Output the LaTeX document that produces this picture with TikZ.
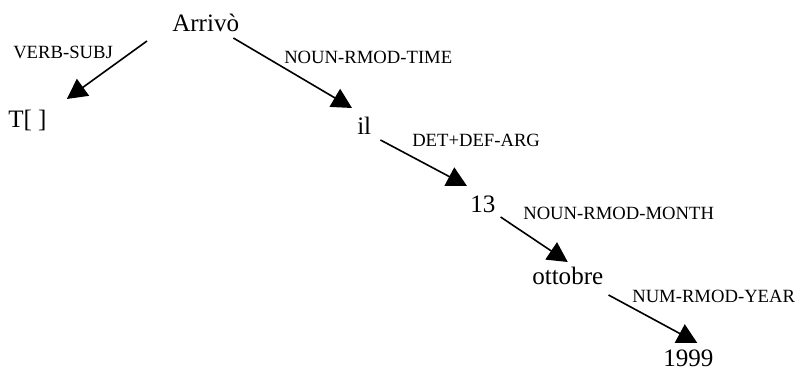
\documentclass[tikz,border=0pt]{standalone}
\usepackage{fontspec}
\setmainfont{Liberation Serif}
\usepackage{tikz}
\usetikzlibrary{positioning,arrows.meta,calc}
\tikzset{
  node-word/.style={inner sep=0pt,anchor=base west,
    font=\fontsize{18.8pt}{22pt}\selectfont},
  node-rel/.style={inner sep=0pt,anchor=base west,
    font=\fontsize{14pt}{16pt}\selectfont},
  arrow-dep/.style={-{Triangle[length=15pt,width=15.5pt]},line width=1.2pt,draw=black},
}
\begin{document}
\begin{tikzpicture}[x=0.75pt,y=-0.75pt]
  \useasboundingbox (0,0) rectangle (796,370);
  % words
  \node[node-word] (arr)  at (172,32)  {Arrivò};
  \node[node-word] (tnull) at (8,128)  {T[ ]};
  \node[node-word] (il)   at (357,135) {il};
  \node[node-word] (n13)  at (470,213) {13};
  \node[node-word] (ott)  at (532,285) {ottobre};
  \node[node-word] (year) at (663,366) {1999};
  % relation labels
  \node[node-rel] (rsubj)  at (13,59)   {VERB-SUBJ};
  \node[node-rel] (rtime)  at (284,64)  {NOUN-RMOD-TIME};
  \node[node-rel] (rdet)   at (412,147) {DET+DEF-ARG};
  \node[node-rel] (rmonth) at (523,220) {NOUN-RMOD-MONTH};
  \node[node-rel] (ryear)  at (632,302) {NUM-RMOD-YEAR};
  % dependencies
  \draw[arrow-dep] ($(arr.base west)+(-25,9)$) -- ($(tnull.base east)+(20,-29)$);
  \draw[arrow-dep] ($(arr.base east)+(-6,6)$)  -- ($(il.base west)+(-5,-27)$);
  \draw[arrow-dep] ($(il.base east)+(9,5)$)    -- ($(n13.base west)+(-3,-27)$);
  \draw[arrow-dep] ($(n13.base east)+(5,4)$)   -- ($(ott.base)+(0,-23)$);
  \draw[arrow-dep] ($(ott.base east)+(5,10)$)  -- ($(year.base)+(9,-23)$);
\end{tikzpicture}
\end{document}
